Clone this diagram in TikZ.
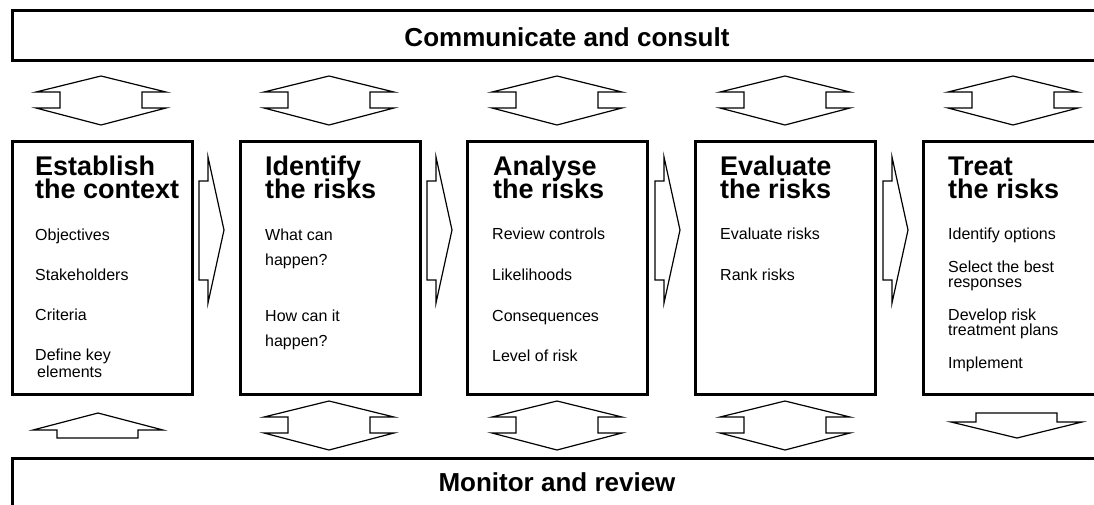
\documentclass[tikz,border=0pt]{standalone}
\usepackage{fontspec}
\setmainfont{Liberation Sans}
\newcommand{\twoline}[2]{\parbox[t]{170pt}{\fontsize{27}{23}\selectfont\bfseries\lineskiplimit=-100pt #1\\#2}}
\begin{document}
\begin{tikzpicture}[x=1pt,y=-1pt,
  thickline/.style={draw,line width=3pt,inner sep=0pt,outer sep=0pt},
  arr/.style={draw,line width=1.2pt,line join=miter},
  title/.style={anchor=base west,inner sep=0pt},
  item/.style={anchor=base west,inner sep=0pt,font=\fontsize{16}{16}\selectfont},
  bartext/.style={anchor=base,inner sep=0pt,font=\fontsize{26}{26}\selectfont\bfseries}]
\clip (0,0) rectangle (1094,504);
\fill[white] (0,0) rectangle (1094,504);
% bars
\node[thickline,anchor=north west,minimum width=1100pt,minimum height=50pt] (cbar) at (12,10) {};
\node[bartext] (ctext) at (567,46) {Communicate and consult};
\node[thickline,anchor=north west,minimum width=1100pt,minimum height=70pt] (mbar) at (12,458) {};
\node[bartext] (mtext) at (557,491) {Monitor and review};
% boxes
\foreach \x [count=\i] in {12,240,467,695,923}
  \node[thickline,anchor=north west,minimum width=180pt,minimum height=253pt] (b\i) at (\x,141) {};
% titles
\node[title] (t1) at (35,175) {\twoline{Establish}{the context}};
\node[title] (t2) at (265,175) {\twoline{Identify}{the risks}};
\node[title] (t3) at (493,175) {\twoline{Analyse}{the risks}};
\node[title] (t4) at (720,175) {\twoline{Evaluate}{the risks}};
\node[title] (t5) at (948,175) {\twoline{Treat}{the risks}};
% items box 1
\node[item] (i11) at (35,240) {Objectives};
\node[item] (i12) at (35,280) {Stakeholders};
\node[item] (i13) at (35,320) {Criteria};
\node[item] (i14) at (35,360) {Define key};
\node[item] (i15) at (37,377) {elements};
% items box 2
\node[item] (i21) at (265,240) {What can};
\node[item] (i22) at (265,265) {happen?};
\node[item] (i23) at (265,321) {How can it};
\node[item] (i24) at (265,346) {happen?};
% items box 3
\node[item] (i31) at (492,239) {Review controls};
\node[item] (i32) at (492,280) {Likelihoods};
\node[item] (i33) at (492,321) {Consequences};
\node[item] (i34) at (492,361) {Level of risk};
% items box 4
\node[item] (i41) at (720,239) {Evaluate risks};
\node[item] (i42) at (720,280) {Rank risks};
% items box 5
\node[item] (i51) at (948,239) {Identify options};
\node[item] (i52) at (948,272) {Select the best};
\node[item] (i53) at (948,287) {responses};
\node[item] (i54) at (948,320) {Develop risk};
\node[item] (i55) at (948,335) {treatment plans};
\node[item] (i56) at (948,368) {Implement};
% top double arrows
\foreach \cx in {101,329,557,785,1013}
  \draw[arr] (\cx,76) -- ({\cx+65},92) -- ({\cx+41},92) -- ({\cx+41},108) -- ({\cx+65},108)
    -- (\cx,125) -- ({\cx-65},108) -- ({\cx-41},108) -- ({\cx-41},92) -- ({\cx-65},92) -- cycle;
% bottom double arrows
\foreach \cx in {329,557,785}
  \draw[arr] (\cx,401) -- ({\cx+65},417) -- ({\cx+41},417) -- ({\cx+41},433) -- ({\cx+65},433)
    -- (\cx,450) -- ({\cx-65},433) -- ({\cx-41},433) -- ({\cx-41},417) -- ({\cx-65},417) -- cycle;
% up arrow
\draw[arr] (98,413) -- (163,430) -- (138,430) -- (138,438) -- (57,438) -- (57,430) -- (33,430) -- cycle;
% down arrow
\draw[arr] (976,413) -- (1057,413) -- (1057,422) -- (1082,422) -- (1017,438) -- (951,422) -- (976,422) -- cycle;
% right arrows
\foreach \k in {0,1,2,3}
  \draw[arr] ({199+228*\k},181) -- ({208+228*\k},181) -- ({208+228*\k},157) -- ({224+228*\k},230)
    -- ({208+228*\k},303) -- ({208+228*\k},280) -- ({199+228*\k},280) -- cycle;
\end{tikzpicture}
\end{document}
